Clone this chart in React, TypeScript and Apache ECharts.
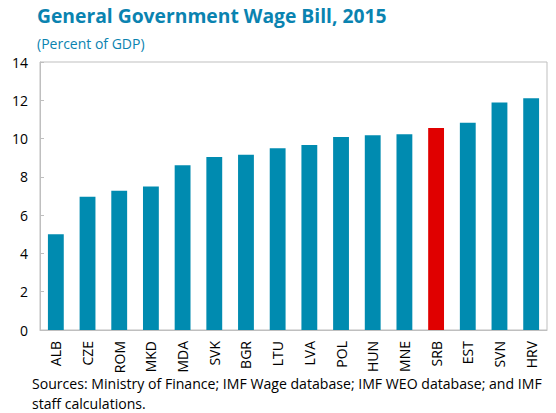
import React, { useEffect, useRef } from "react";
import * as echarts from "echarts";

const categories = ["ALB", "CZE", "ROM", "MKD", "MDA", "SVK", "BGR", "LTU", "LVA", "POL", "HUN", "MNE", "SRB", "EST", "SVN", "HRV"];
const values = [5.0, 6.96, 7.28, 7.5, 8.6, 9.04, 9.16, 9.49, 9.67, 10.08, 10.17, 10.22, 10.55, 10.83, 11.88, 12.1];
const highlight = "SRB";
const titleText = "General Government Wage Bill, 2015";
const subtitleText = "(Percent of GDP)";
const sourceLines = ["Sources: Ministry of Finance; IMF Wage database; IMF WEO database; and IMF", "staff calculations."];

const FONT = "'Open Sans', 'Noto Sans', sans-serif";

export default function App() {
  const ref = useRef<HTMLDivElement>(null);
  useEffect(() => {
    if (!ref.current) return;
    const chart = echarts.init(ref.current, null, { renderer: "svg" });
    chart.setOption({
      animation: false,
      textStyle: { fontFamily: FONT },
      grid: { left: 40, top: 62, right: 9, bottom: 83, show: true, borderColor: "#bfbfbf", borderWidth: 1 },
      graphic: [
        { type: "text", left: 37, top: 6, style: { text: titleText, font: `bold 19.3px ${FONT}`, fill: "#0a83b0" } },
        { type: "text", left: 37, top: 36, style: { text: subtitleText, font: `14px ${FONT}`, fill: "#0a83b0" } },
        { type: "text", left: 32, top: 376, style: { text: sourceLines[0], font: `14.1px ${FONT}`, fill: "#000" } },
        { type: "text", left: 32, top: 396, style: { text: sourceLines[1], font: `14.1px ${FONT}`, fill: "#000" } },
      ],
      xAxis: {
        type: "category",
        data: categories,
        axisLine: { lineStyle: { color: "#bfbfbf" } },
        axisTick: { show: false },
        axisLabel: { rotate: 90, color: "#000", fontSize: 14, fontFamily: FONT, margin: 11 },
      },
      yAxis: {
        type: "value",
        min: 0,
        max: 14,
        interval: 2,
        axisLine: { show: true, lineStyle: { color: "#bfbfbf" } },
        axisTick: { show: true, inside: true, length: 4, lineStyle: { color: "#bfbfbf" } },
        splitLine: { show: false },
        axisLabel: { color: "#000", fontSize: 14, fontFamily: FONT, margin: 12 },
      },
      series: [
        {
          type: "bar",
          barWidth: "50%",
          data: values.map((v, i) => ({
            value: v,
            itemStyle: { color: categories[i] === highlight ? "#e00000" : "#008bb0" },
          })),
        },
      ],
    });
    return () => chart.dispose();
  }, []);
  return <div ref={ref} style={{ width: 556, height: 413, marginLeft: -8, marginTop: -8 }} />;
}
